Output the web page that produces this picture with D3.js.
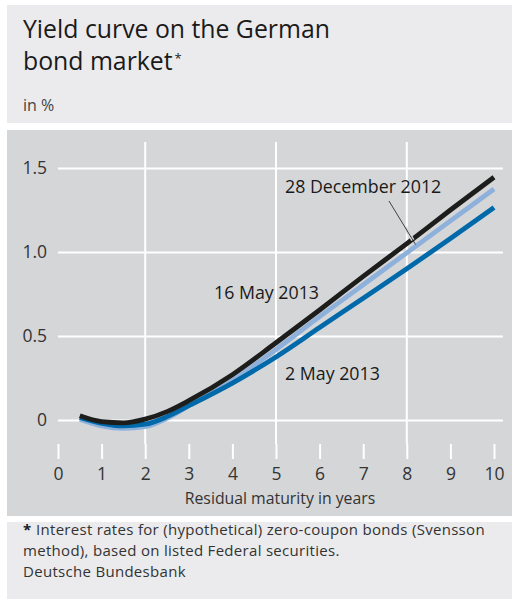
<!DOCTYPE html>
<html>
<head>
<meta charset="utf-8">
<script src="https://cdn.jsdelivr.net/npm/d3@7"></script>
<style>
  body { margin: 0; background: #fff; }
  svg { display: block; font-family: "Open Sans", "Noto Sans", sans-serif; }
</style>
</head>
<body>
<div id="chart"></div>
<script>
// maturities in years
const maturities = [0.5, 1, 1.5, 2, 2.5, 3, 4, 5, 6, 7, 8, 9, 10]
// zero-coupon yields in %
const may16 = [0.025, -0.01, -0.017, 0.005, 0.05, 0.115, 0.27, 0.46, 0.655, 0.855, 1.05, 1.25, 1.445]
const dec28 = [0.005, -0.035, -0.05, -0.04, 0.01, 0.085, 0.235, 0.42, 0.615, 0.805, 0.995, 1.185, 1.375]
const may02 = [0.015, -0.02, -0.035, -0.025, 0.02, 0.085, 0.22, 0.375, 0.55, 0.725, 0.9, 1.08, 1.265]

const xTicks = [0, 1, 2, 3, 4, 5, 6, 7, 8, 9, 10]
const xGrid = [2, 5, 8]
const yTicks = [0, 0.5, 1.0, 1.5]

const width = 512
const height = 604

const svg = d3.select("#chart")
  .append("svg")
  .attr("width", width)
  .attr("height", height)

// background panels
svg.append("rect").attr("x", 7).attr("y", 5).attr("width", width - 7).attr("height", 118).attr("fill", "#ebebed")
svg.append("rect").attr("x", 7).attr("y", 130).attr("width", width - 7).attr("height", 386).attr("fill", "#d5d6d8")
svg.append("rect").attr("x", 7).attr("y", 522).attr("width", width - 7).attr("height", 77).attr("fill", "#ebebed")

// title
svg.append("text")
  .attr("x", 23).attr("y", 38)
  .attr("font-size", "24.8px")
  .attr("fill", "#1a1a1a")
  .text("Yield curve on the German")
const t2 = svg.append("text")
  .attr("x", 23).attr("y", 70)
  .attr("font-size", "24.8px")
  .attr("fill", "#1a1a1a")
  .text("bond market")
svg.append("text")
  .attr("x", 23 + t2.node().getComputedTextLength() + 2)
  .attr("y", 63)
  .attr("font-size", "13px")
  .attr("fill", "#1a1a1a")
  .text("*")

svg.append("text")
  .attr("x", 23)
  .attr("y", 111)
  .attr("font-size", "16px")
  .attr("fill", "#444")
  .text("in %")

// scales
const x = d3.scaleLinear().domain([0, 10]).range([58, 494])
const y = d3.scaleLinear().domain([0, 1.5]).range([420, 168])

// y axis with horizontal gridlines
const yAxis = svg.append("g")
  .attr("transform", "translate(58,0)")
  .call(d3.axisLeft(y)
    .tickValues(yTicks)
    .tickSize(-(503 - 58))
    .tickPadding(11)
    .tickFormat(d => d === 0 ? "0" : d3.format(".1f")(d)))
yAxis.select(".domain").remove()
yAxis.selectAll(".tick line").attr("stroke", "#fff").attr("stroke-width", 2)
yAxis.selectAll(".tick text")
  .attr("font-size", "17.5px")
  .attr("fill", "#333")
  .attr("font-family", "Open Sans, sans-serif")

// vertical gridlines
svg.append("g")
  .selectAll("line")
  .data(xGrid)
  .join("line")
  .attr("x1", d => x(d))
  .attr("x2", d => x(d))
  .attr("y1", 142)
  .attr("y2", 444)
  .attr("stroke", "#fff")
  .attr("stroke-width", 2)

// x axis
const xAxis = svg.append("g")
  .attr("transform", "translate(0,444)")
  .call(d3.axisBottom(x)
    .tickValues(xTicks)
    .tickSize(15)
    .tickPadding(9)
    .tickFormat(d3.format("d")))
xAxis.select(".domain").remove()
xAxis.selectAll(".tick line").attr("stroke", "#fff").attr("stroke-width", 2)
xAxis.selectAll(".tick text")
  .attr("font-size", "17.5px")
  .attr("fill", "#333")
  .attr("font-family", "Open Sans, sans-serif")

svg.append("text")
  .attr("x", 280)
  .attr("y", 504)
  .attr("text-anchor", "middle")
  .attr("font-size", "15.8px")
  .attr("fill", "#333")
  .text("Residual maturity in years")

// curves
const line = d3.line()
  .x((d, i) => x(maturities[i]))
  .y(d => y(d))
  .curve(d3.curveMonotoneX)

const series = [
  { values: dec28, color: "#8eb1db" },
  { values: may02, color: "#0069aa" },
  { values: may16, color: "#1d1d1b" }
]

svg.append("g")
  .selectAll("path")
  .data(series)
  .join("path")
  .attr("d", d => line(d.values))
  .attr("fill", "none")
  .attr("stroke", d => d.color)
  .attr("stroke-width", 4.8)

// leader for 28 December 2012, ends on the light blue line
const lx = 8.2
const ly = d3.interpolateNumber(dec28[10], dec28[11])(lx - 8)
const p0 = [389, 201]
const p1 = [x(lx), y(ly) - 2]
const hStart = [p0[0] + (p1[0] - p0[0]) * 0.6, p0[1] + (p1[1] - p0[1]) * 0.6]
const hEnd = [p0[0] + (p1[0] - p0[0]) * 0.9, p0[1] + (p1[1] - p0[1]) * 0.9]
svg.append("line")
  .attr("x1", hStart[0]).attr("y1", hStart[1])
  .attr("x2", hEnd[0]).attr("y2", hEnd[1])
  .attr("stroke", "#d5d6d8")
  .attr("stroke-width", 3.5)
svg.append("line")
  .attr("x1", p0[0]).attr("y1", p0[1])
  .attr("x2", p1[0]).attr("y2", p1[1])
  .attr("stroke", "#1a1a1a")
  .attr("stroke-width", 0.8)

// series labels
const labels = [
  { text: "28 December 2012", x: 285, y: 193 },
  { text: "16 May 2013", x: 214, y: 299 },
  { text: "2 May 2013", x: 285, y: 380 }
]
svg.append("g")
  .selectAll("text")
  .data(labels)
  .join("text")
  .attr("x", d => d.x)
  .attr("y", d => d.y)
  .attr("font-size", "17.8px")
  .attr("fill", "#1a1a1a")
  .text(d => d.text)

// footnote
const foot = svg.append("g").attr("font-size", "15px").attr("fill", "#333").attr("letter-spacing", "0.3px")
foot.append("text").attr("x", 23).attr("y", 535)
  .attr("font-weight", "bold").attr("fill", "#1a1a1a").text("*")
foot.append("text").attr("x", 36).attr("y", 535)
  .text("Interest rates for (hypothetical) zero-coupon bonds (Svensson")
foot.append("text").attr("x", 23).attr("y", 556).text("method), based on listed Federal securities.")
foot.append("text").attr("x", 23).attr("y", 577).text("Deutsche Bundesbank")
</script>
</body>
</html>
